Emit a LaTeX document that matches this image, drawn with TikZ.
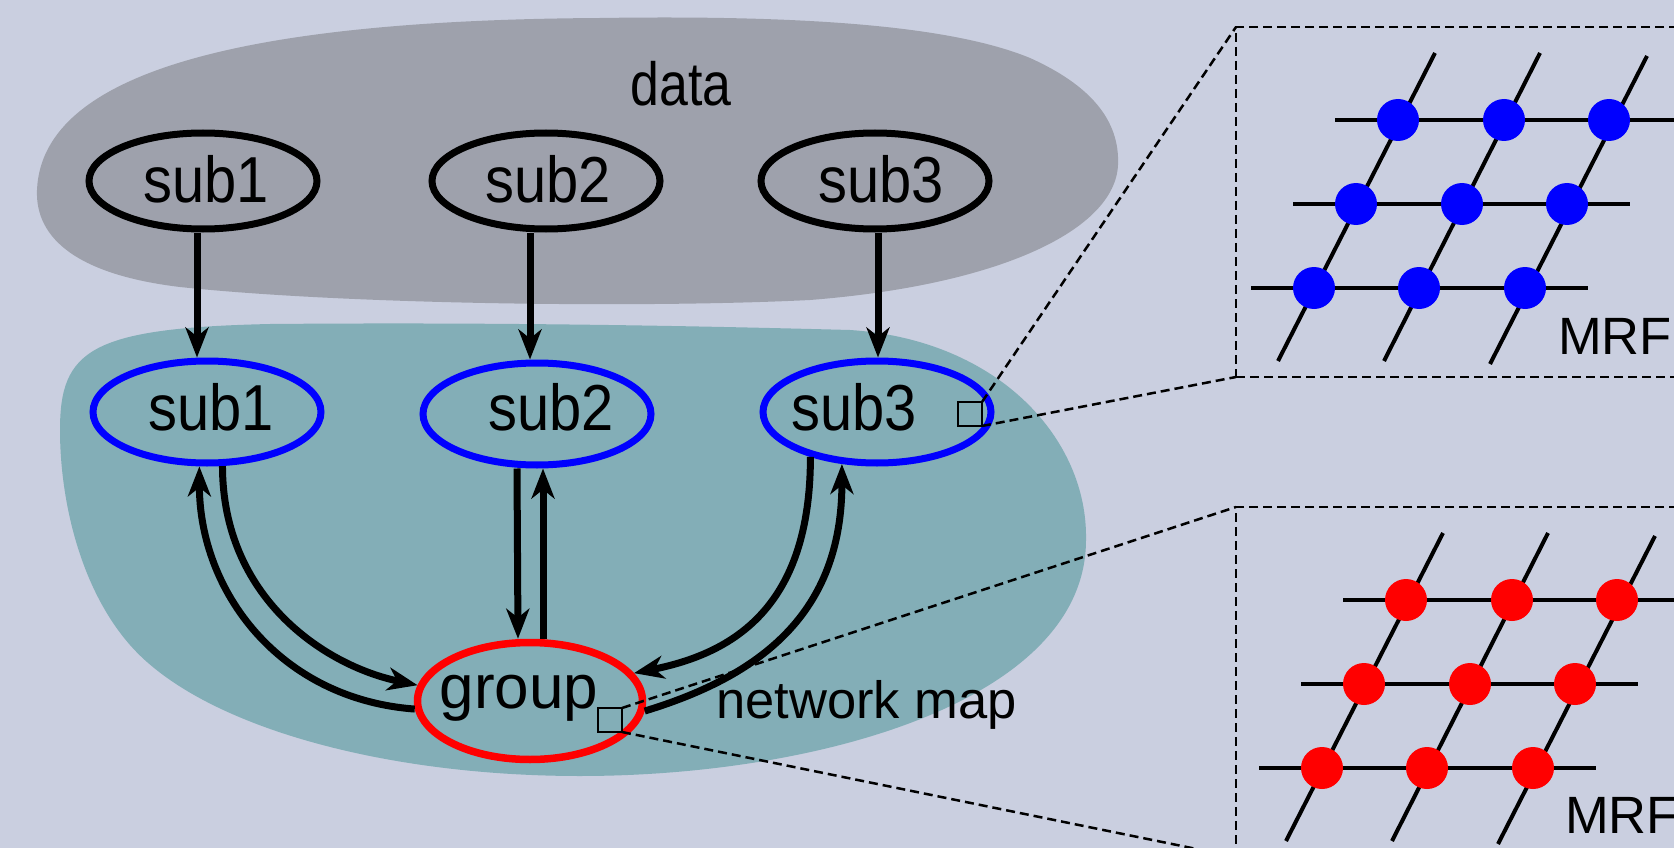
\documentclass[tikz,border=0pt]{standalone}
\usepackage{fontspec}
\setmainfont{Liberation Sans}
\newfontfamily\subfont[FakeStretch=0.89]{Liberation Sans}
\newfontfamily\datafont[FakeStretch=0.85]{Liberation Sans}
\usetikzlibrary{arrows.meta,shapes.geometric}
\definecolor{bgc}{RGB}{202,207,224}
\definecolor{datac}{RGB}{158,161,172}
\definecolor{netc}{RGB}{131,174,183}
\tikzset{
  topell/.style={ellipse, draw=black, line width=7pt, minimum width=228pt, minimum height=96pt, inner sep=0pt},
  blueell/.style={ellipse, draw=blue, line width=7pt, minimum width=228pt, minimum height=102pt, inner sep=0pt},
  redell/.style={ellipse, draw=red, line width=7.5pt, minimum width=225pt, minimum height=117pt, inner sep=0pt},
  sublbl/.style={anchor=base, inner sep=0pt, font=\subfont\fontsize{65}{65}\selectfont},
  grplbl/.style={anchor=base, inner sep=0pt, font=\fontsize{62}{62}\selectfont},
  datalbl/.style={anchor=base, inner sep=0pt, font=\datafont\fontsize{61}{61}\selectfont},
  smalllbl/.style={anchor=base west, inner sep=0pt, font=\fontsize{52.5}{52.5}\selectfont},
  arr/.style={line width=7pt, -{Stealth[length=30pt,width=23pt,inset=9pt]}},
  zoomsq/.style={rectangle, draw=black, line width=2pt, minimum size=24pt, inner sep=0pt, outer sep=0pt},
  zoomln/.style={line width=2.5pt, dash pattern=on 9pt off 5pt},
  mrfbox/.style={rectangle, draw=black, zoomln, anchor=north west, minimum width=480pt, minimum height=350pt, inner sep=0pt, outer sep=0pt},
  gridln/.style={line width=4pt}
}
\newcommand\mrfgrid[1]{%
  \draw[gridln] (1335,120) -- (1690,120) (1293,204) -- (1630,204) (1251,288) -- (1588,288);
  \draw[gridln] (1278,361) -- (1435,53) (1384,361) -- (1540,53) (1490,364) -- (1647,56);
  \foreach \px/\py in {1398/120,1504/120,1609/120,1356/204,1462/204,1567/204,1314/288,1419/288,1525/288}
    \fill[#1] (\px,\py) circle[radius=21pt];
}
\begin{document}
\begin{tikzpicture}[x=1pt,y=-1pt]
\useasboundingbox (0,0) rectangle (1674,848);
\clip (0,0) rectangle (1674,848);
\fill[bgc] (0,0) rectangle (1674,848);
% data blob
\fill[datac] (37,190) .. controls (42,70) and (250,20) .. (600,18)
  .. controls (800,15) and (950,25) .. (1030,58)
  .. controls (1090,85) and (1120,120) .. (1118,165)
  .. controls (1115,230) and (1000,285) .. (810,300)
  .. controls (650,308) and (350,305) .. (180,287)
  .. controls (80,275) and (35,240) .. (37,190) -- cycle;
% network blob
\fill[netc] (60,430) .. controls (60,350) and (90,328) .. (270,324)
  .. controls (500,322) and (700,326) .. (850,330)
  .. controls (1000,340) and (1088,440) .. (1086,540)
  .. controls (1086,700) and (820,776) .. (580,776)
  .. controls (380,776) and (200,725) .. (130,645)
  .. controls (80,588) and (60,500) .. (60,430) -- cycle;
% top ellipses
\node[topell] (t1) at (203,181) {};
\node[topell] (t2) at (546,181) {};
\node[topell] (t3) at (875,181) {};
\node[sublbl] (t1l) at (206,203) {sub1};
\node[sublbl] (t2l) at (548,203) {sub2};
\node[sublbl] (t3l) at (881,203) {sub3};
\node[datalbl] (datal) at (681,106) {data};
% blue ellipses
\node[blueell] (b1) at (207,412) {};
\node[blueell] (b2) at (537,414) {};
\node[blueell] (b3) at (877,412) {};
\node[sublbl] (b1l) at (211,430) {sub1};
\node[sublbl] (b2l) at (551,430) {sub2};
\node[sublbl] (b3l) at (854,430) {sub3};
% group
\node[redell] (g) at (530,701) {};
\node[grplbl] (gl) at (519,708) {group};
\node[smalllbl] (netl) at (716,718) {network map};
% arrows data -> subjects
\draw[arr] ([xshift=-6pt]t1.south) -- ([xshift=-10pt]b1.north);
\draw[arr] ([xshift=-16pt]t2.south) -- ([xshift=-7pt]b2.north);
\draw[arr] ([xshift=3pt]t3.south) -- ([xshift=1pt]b3.north);
% sub1 <-> group
\draw[arr] (b1.-74) .. controls +(0,130) and +(-95,-20) .. (g.172);
\draw[arr] (g.184) .. controls +(-135,-10) and +(0,125) .. (b1.-98);
% sub2 <-> group
\draw[arr] ([xshift=-20pt]b2.south) -- ([xshift=-12pt]g.north);
\draw[arr] ([xshift=13pt]g.north) -- ([xshift=6pt]b2.south);
% sub3 <-> group
\draw[arr] (b3.-146) .. controls +(0,150) and +(100,-20) .. (g.15);
\draw[arr] (g.-5) .. controls +(115,-35) and +(0,150) .. (b3.-124);
% zoom squares and boxes
\node[zoomsq] (s3) at (970,414) {};
\node[zoomsq] (gs) at (610,720) {};
\node[mrfbox] (ubox) at (1236,27) {};
\node[mrfbox] (lbox) at (1236,507) {};
\draw[zoomln] (s3.north east) -- (ubox.north west);
\draw[zoomln] (s3.south east) -- (ubox.south west);
\draw[zoomln] (gs.north east) -- (lbox.north west);
\draw[zoomln] (gs.south east) -- (lbox.south west);
% MRF grids
\mrfgrid{blue}
\node[smalllbl] (mrfu) at (1558,354) {MRF};
\begin{scope}[shift={(8,480)}]
\mrfgrid{red}
\end{scope}
\node[smalllbl] (mrfl) at (1565,833) {MRF};
\end{tikzpicture}
\end{document}
